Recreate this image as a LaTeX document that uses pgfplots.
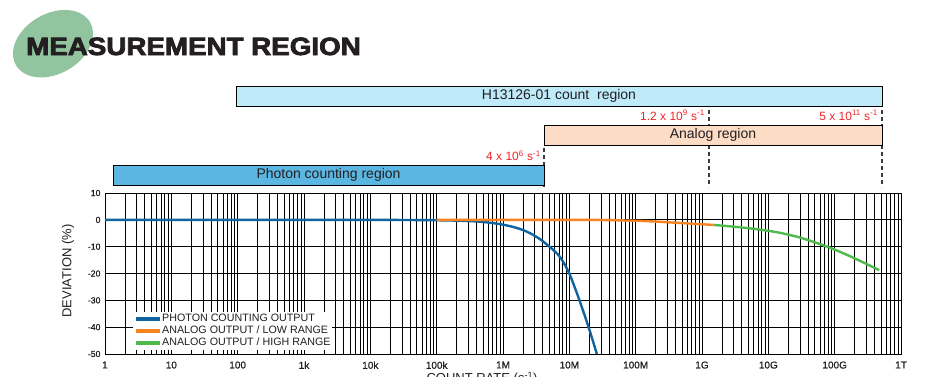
\documentclass[border=0pt]{standalone}
\usepackage{pgfplots}
\pgfplotsset{compat=1.18}
\usepackage{fontspec}
\setmainfont{Liberation Sans}
\newfontfamily\titlefont{Liberation Sans}[BoldFeatures={FakeBold=3}]
\newfontfamily\tickfont{Liberation Sans}[FakeBold=0.7]
\usepackage{graphicx}
\definecolor{pcblue}{RGB}{16,100,160}
\definecolor{anorange}{RGB}{247,130,32}
\definecolor{angreen}{RGB}{78,186,76}
\definecolor{titlegreen}{RGB}{147,196,160}
\definecolor{darktext}{RGB}{35,31,32}
\definecolor{boxlight}{RGB}{190,234,250}
\definecolor{boxpeach}{RGB}{253,220,198}
\definecolor{boxblue}{RGB}{91,182,226}
\definecolor{labred}{RGB}{240,36,40}
\definecolor{dashgray}{RGB}{60,60,60}

\pgfplotstableread{
x y
1 0
1e3 0
1e4 0
3e4 -0.05
1e5 -0.15
2.8e5 -0.4
5e5 -0.8
9e5 -1.6
1.4e6 -2.6
2e6 -3.8
2.8e6 -5.5
4e6 -8
6.5e6 -12.5
8e6 -15.5
1e7 -20
1.2e7 -25
1.45e7 -30.6
1.95e7 -40
2.6e7 -50
}\pcdata

\pgfplotstableread{
x y
1e5 0
1e7 0
3e7 -0.05
1.2e8 -0.4
3e8 -0.9
1.5e9 -1.9
}\lowdata

\pgfplotstableread{
x y
1.5e9 -1.9
4.2e9 -2.9
1.2e10 -4.4
3e10 -6.6
8.5e10 -10.4
1.9e11 -14.1
4.7e11 -18.75
}\highdata

\begin{document}
\begin{tikzpicture}[x=1pt,y=1pt]
\useasboundingbox (0,0) rectangle (926,376);
\clip (0,0) rectangle (926,376);
% title
\fill[titlegreen, rotate around={30:(53,332.3)}] (53,332.3) ellipse [x radius=42.8, y radius=30.1];
\node[anchor=base west, inner sep=0, text=darktext] at (26,321) {\scalebox{1.11}[1]{\titlefont\bfseries\fontsize{25}{30}\selectfont MEASUREMENT REGION}};
% dashed markers
\draw[dashgray, line width=1.3pt, dash pattern=on 4pt off 3pt] (544,228) -- (544,189);
\draw[dashgray, line width=1.3pt, dash pattern=on 4pt off 3pt] (709,266) -- (709,189);
\draw[dashgray, line width=1.3pt, dash pattern=on 4pt off 3pt] (882,266) -- (882,189);
% region boxes
\draw[black, line width=0.9pt, fill=boxlight] (236,270) rectangle (882,290);
\node[text=darktext, font=\fontsize{14}{16}\selectfont] at (559,280) {H13126-01 count\ \ region};
\draw[black, line width=0.9pt, fill=boxpeach] (544,231) rectangle (882,251);
\node[text=darktext, font=\fontsize{14}{16}\selectfont] at (713,241) {Analog region};
\draw[black, line width=0.9pt, fill=boxblue] (113,191) rectangle (544,211);
\node[text=darktext, font=\fontsize{14}{16}\selectfont] at (328.5,201) {Photon counting region};
% red rate labels
\node[anchor=base east, inner sep=0, text=labred, font=\fontsize{12}{14}\selectfont] at (541,215.5) {4 x 10\textsuperscript{6} s\textsuperscript{-1}};
\node[anchor=base east, inner sep=0, text=labred, font=\fontsize{12}{14}\selectfont] at (705,256) {1.2 x 10\textsuperscript{9} s\textsuperscript{-1}};
\node[anchor=base east, inner sep=0, text=labred, font=\fontsize{12}{14}\selectfont] at (878,256) {5 x 10\textsuperscript{11} s\textsuperscript{-1}};

\begin{axis}[
  at={(105pt,22pt)}, anchor=south west,
  scale only axis, width=796pt, height=161pt,
  xmode=log, xmin=1, xmax=1e12, ymin=-50, ymax=10,
  xtick={1,10,100,1e3,1e4,1e5,1e6,1e7,1e8,1e9,1e10,1e11,1e12},
  xticklabels={1,10,100,1k,10k,100k,1M,10M,100M,1G,10G,100G,1T},
  minor xtick={2,3,4,5,6,7,8,9,
    2e1,3e1,4e1,5e1,6e1,7e1,8e1,9e1,
    2e2,3e2,4e2,5e2,6e2,7e2,8e2,9e2,
    2e3,3e3,4e3,5e3,6e3,7e3,8e3,9e3,
    2e4,3e4,4e4,5e4,6e4,7e4,8e4,9e4,
    2e5,3e5,4e5,5e5,6e5,7e5,8e5,9e5,
    2e6,3e6,4e6,5e6,6e6,7e6,8e6,9e6,
    2e7,3e7,4e7,5e7,6e7,7e7,8e7,9e7,
    2e8,3e8,4e8,5e8,6e8,7e8,8e8,9e8,
    2e9,3e9,4e9,5e9,6e9,7e9,8e9,9e9,
    2e10,3e10,4e10,5e10,6e10,7e10,8e10,9e10,
    2e11,3e11,4e11,5e11,6e11,7e11,8e11,9e11},
  ytick={-50,-40,-30,-20,-10,0,10},
  yticklabels={-50,-40,-30,-20,-10,0,10},
  grid=both,
  major grid style={black, line width=0.9pt},
  minor grid style={black, line width=0.9pt},
  axis line style={black, line width=0.9pt},
  major tick length=0pt, minor tick length=0pt,
  xticklabel style={font=\tickfont\fontsize{10}{12}\selectfont, text=darktext, inner sep=0pt, yshift=-7.3pt},
  yticklabel style={font=\tickfont\fontsize{8.7}{10}\selectfont, text=darktext, xshift=-1pt},
  ylabel={DEVIATION (\%)},
  ylabel style={at={(axis description cs:-0.0465,0.5155)}, anchor=center, font=\fontsize{13}{15}\selectfont, text=darktext},
  xlabel={COUNT RATE (s\textsuperscript{-1})},
  xlabel style={at={(axis description cs:0.4736,-0.1118)}, anchor=north, inner sep=0pt, font=\fontsize{13}{15}\selectfont, text=darktext},
  legend style={at={(axis description cs:0.0352,0.261)}, anchor=north west, draw=none, fill=white, inner sep=1pt,
    font=\fontsize{10.7}{12}\selectfont, text=darktext,
    nodes={inner sep=0.5pt, text height=8pt, text depth=3pt}, row sep=0pt},
  legend cell align=left,
  legend image code/.code={\draw[#1, line width=3.5pt] (0pt,0pt) -- (24pt,0pt);},
]
\addplot[pcblue, line width=2.4pt, smooth] table[x=x, y=y] {\pcdata};
\addlegendentry{PHOTON COUNTING OUTPUT}
\addplot[anorange, line width=2.4pt, smooth] table[x=x, y=y] {\lowdata};
\addlegendentry{ANALOG OUTPUT / LOW RANGE}
\addplot[angreen, line width=2.4pt, smooth] table[x=x, y=y] {\highdata};
\addlegendentry{ANALOG OUTPUT / HIGH RANGE}
\end{axis}
\end{tikzpicture}
\end{document}
